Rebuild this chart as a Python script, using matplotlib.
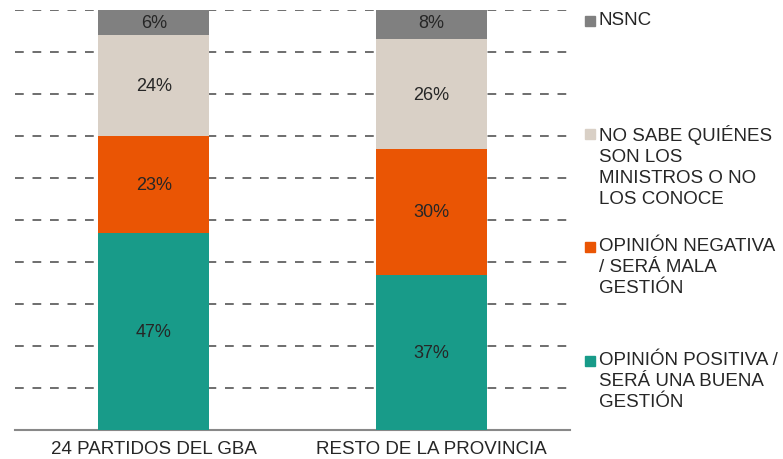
import matplotlib.pyplot as plt
import numpy as np
from matplotlib.patches import Rectangle

plt.rcParams['font.family'] = ['Liberation Sans', 'DejaVu Sans']

regiones = ['24 PARTIDOS DEL GBA', 'RESTO DE LA PROVINCIA']
series = ['OPINIÓN POSITIVA /\nSERÁ UNA BUENA\nGESTIÓN',
          'OPINIÓN NEGATIVA\n/ SERÁ MALA\nGESTIÓN',
          'NO SABE QUIÉNES\nSON LOS\nMINISTROS O NO\nLOS CONOCE',
          'NSNC']
positiva = [47, 37]
negativa = [23, 30]
no_sabe = [24, 26]
nsnc = [6, 8]
colores = ['#189b89', '#ea5504', '#d9d0c6', '#808080']

fig = plt.figure(figsize=(7.83, 4.6), dpi=100)
ax = fig.add_axes([15 / 783, 29 / 460, 555 / 783, 420 / 460])

x = np.arange(len(regiones))
base = np.zeros(len(regiones))
for vals, col in zip([positiva, negativa, no_sabe, nsnc], colores):
    ax.bar(x, vals, 0.40, bottom=base, color=col, zorder=3)
    for xi, b, v in zip(x, base, vals):
        ax.text(xi, b + v / 2, f'{v}%', ha='center', va='center',
                fontsize=13, color='#262626', zorder=4)
    base += vals

for g in range(10, 101, 10):
    ax.axhline(g, color='#6e6e6e', lw=1.4, ls=(0, (4.5, 4.5)), zorder=1)

ax.set_xlim(-0.5, 1.5)
ax.set_ylim(0, 100)
ax.set_yticks([])
ax.set_xticks(x)
ax.set_xticklabels(regiones, fontsize=13.5, color='#262626')
ax.tick_params(axis='x', length=0, pad=7)
for s in ['top', 'right', 'left']:
    ax.spines[s].set_visible(False)
ax.spines['bottom'].set_color('#888888')
ax.spines['bottom'].set_linewidth(1.5)

# leyenda manual, de arriba hacia abajo
leg_y = [22, 135, 248, 362]
for lbl, col, yy in zip(series[::-1], colores[::-1], leg_y):
    fig.add_artist(Rectangle((585 / 783, 1 - (yy + 5) / 460), 10 / 783, 10 / 460,
                             color=col, transform=fig.transFigure))
    fig.text(599 / 783, 1 - (yy - 10) / 460, lbl, ha='left', va='top',
             fontsize=13.5, color='#262626', linespacing=1.3)

fig.savefig('out.png', dpi=100)
